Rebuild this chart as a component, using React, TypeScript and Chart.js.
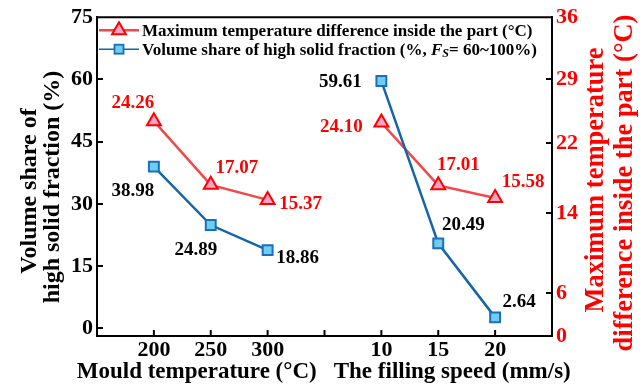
import React, { useEffect, useRef } from "react";
import { Chart, registerables } from "chart.js";

Chart.register(...registerables);

// ---------- data ----------
const categories = ["", "200", "250", "300", "", "10", "15", "20", ""];
const maxTempDiff = [null, 24.26, 17.07, 15.37, null, 24.1, 17.01, 15.58, null];
const volumeShare = [null, 38.98, 24.89, 18.86, null, 59.61, 20.49, 2.64, null];
const leftTickValues = [0, 15, 30, 45, 60, 75];
const rightTickValues = [0, 4.8, 13.9, 21.8, 29, 36];
const rightTickLabels = ["0", "6", "14", "22", "29", "36"];

const tempLegend = "Maximum temperature difference inside the part (\u00B0C)";
const volLegendParts = ["Volume share of high solid fraction (%, ", "F", "S", "= 60~100%)"];
const leftTitle = ["Volume share of", "high solid fraction (%)"];
const rightTitle = ["Maximum temperature", "difference inside the part (\u00B0C)"];
const bottomTitles = ["Mould temperature (\u00B0C)", "The filling speed (mm/s)"];

// ---------- styles ----------
const FONT = "'Liberation Serif', 'Times New Roman', serif";
const font = (size: number, style = "") => `${style} bold ${size}px ${FONT}`;
const RED = "#ff0000";
const RED_LINE = "#f24848";
const RED_FILL = "#f7a3c6";
const BLUE_LINE = "#1565a8";
const BLUE_BORDER = "#1a6fb8";
const BLUE_FILL = "#6fcdf4";
const TICK_LEN = 6;

// label offsets [dx, dy] from each point (style, not data)
const tempLabelOffsets = [[0, 0], [-21, -18], [26, -17], [33, 4], [0, 0], [-40, 5], [20, -20], [28, -16], [0, 0]];
const volLabelOffsets = [[0, 0], [-21, 24], [-15, 25], [30, 8], [0, 0], [-41, 1], [25, -18], [24, -15], [0, 0]];

const overlayPlugin = {
  id: "overlay",
  afterDraw(chart: any) {
    const { ctx, chartArea } = chart;
    ctx.save();
    // top border
    ctx.strokeStyle = "#000";
    ctx.lineWidth = 2;
    ctx.beginPath();
    ctx.moveTo(chartArea.left - 1, chartArea.top);
    ctx.lineTo(chartArea.right + 1, chartArea.top);
    ctx.stroke();

    // inward tick marks
    ctx.lineWidth = 2;
    ctx.strokeStyle = "#000";
    const xs = chart.scales.x;
    xs.ticks.forEach((_t: any, i: number) => {
      const p = xs.getPixelForValue(i);
      if (i === 0 || i === xs.ticks.length - 1) return;
      ctx.beginPath();
      ctx.moveTo(p, chartArea.bottom);
      ctx.lineTo(p, chartArea.bottom - TICK_LEN);
      ctx.stroke();
    });
    const yl = chart.scales.y;
    yl.ticks.forEach((t: any) => {
      const p = Math.round(yl.getPixelForValue(t.value));
      if (Math.abs(p - chartArea.top) < 2) return;
      ctx.beginPath();
      ctx.moveTo(chartArea.left, p);
      ctx.lineTo(chartArea.left + TICK_LEN, p);
      ctx.stroke();
    });
    const yr = chart.scales.y2;
    yr.ticks.forEach((t: any) => {
      const p = Math.round(yr.getPixelForValue(t.value));
      if (Math.abs(p - chartArea.top) < 2 || Math.abs(p - chartArea.bottom) < 2) return;
      ctx.beginPath();
      ctx.moveTo(chartArea.right, p);
      ctx.lineTo(chartArea.right - TICK_LEN, p);
      ctx.stroke();
    });

    // data labels
    ctx.textAlign = "center";
    ctx.textBaseline = "middle";
    ctx.font = font(19);
    const sets = [
      { idx: 0, color: RED, offs: tempLabelOffsets },
      { idx: 1, color: "#000", offs: volLabelOffsets },
    ];
    sets.forEach(({ idx, color, offs }) => {
      const ds = chart.data.datasets[idx];
      const meta = chart.getDatasetMeta(idx);
      ctx.fillStyle = color;
      meta.data.forEach((pt: any, i: number) => {
        const v = ds.data[i];
        if (v == null) return;
        ctx.fillText((v as number).toFixed(2), pt.x + offs[i][0], pt.y + offs[i][1]);
      });
    });

    // legend
    const lx0 = chartArea.left + 2;
    const lx1 = chartArea.left + 42;
    const mx = (lx0 + lx1) / 2;
    const r1 = chartArea.top + 13;
    const r2 = chartArea.top + 32;
    ctx.strokeStyle = RED_LINE;
    ctx.lineWidth = 2.5;
    ctx.beginPath();
    ctx.moveTo(lx0, r1);
    ctx.lineTo(lx1, r1);
    ctx.stroke();
    const tr = 8;
    ctx.beginPath();
    ctx.moveTo(mx, r1 - tr);
    ctx.lineTo(mx + tr * 0.866, r1 + tr * 0.5);
    ctx.lineTo(mx - tr * 0.866, r1 + tr * 0.5);
    ctx.closePath();
    ctx.fillStyle = RED_FILL;
    ctx.fill();
    ctx.strokeStyle = RED;
    ctx.lineWidth = 2;
    ctx.stroke();

    ctx.strokeStyle = BLUE_LINE;
    ctx.lineWidth = 1.5;
    ctx.beginPath();
    ctx.moveTo(lx0, r2);
    ctx.lineTo(lx1, r2);
    ctx.stroke();
    const sq = 4.5;
    ctx.fillStyle = BLUE_FILL;
    ctx.fillRect(mx - sq, r2 - sq, sq * 2, sq * 2);
    ctx.strokeStyle = BLUE_BORDER;
    ctx.lineWidth = 1.8;
    ctx.strokeRect(mx - sq, r2 - sq, sq * 2, sq * 2);

    ctx.textAlign = "left";
    ctx.fillStyle = "#000";
    const LF = 17;
    ctx.font = font(LF);
    const tx = lx1 + 3;
    ctx.fillText(tempLegend, tx, r1 + 1);
    let x = tx;
    ctx.font = font(LF);
    ctx.fillText(volLegendParts[0], x, r2 + 1);
    x += ctx.measureText(volLegendParts[0]).width;
    ctx.font = font(LF, "italic");
    ctx.fillText(volLegendParts[1], x, r2 + 1);
    x += ctx.measureText(volLegendParts[1]).width;
    ctx.font = font(12, "italic");
    ctx.fillText(volLegendParts[2], x, r2 + 5);
    x += ctx.measureText(volLegendParts[2]).width;
    ctx.font = font(LF);
    ctx.fillText(volLegendParts[3], x, r2 + 1);

    // axis titles (rotated, reading bottom-to-top)
    ctx.textAlign = "center";
    ctx.textBaseline = "alphabetic";
    const drawRot = (text: string, size: number, bx: number, cy: number) => {
      ctx.save();
      ctx.font = font(size);
      ctx.translate(bx, cy);
      ctx.rotate(-Math.PI / 2);
      ctx.fillText(text, 0, 0);
      ctx.restore();
    };
    ctx.fillStyle = "#000";
    drawRot(leftTitle[0], 24, 36, 191);
    drawRot(leftTitle[1], 24, 59, 187);
    ctx.fillStyle = RED;
    drawRot(rightTitle[0], 26.5, 603, 180);
    drawRot(rightTitle[1], 26.5, 632, 183);

    ctx.fillStyle = "#000";
    ctx.textBaseline = "middle";
    ctx.font = font(23);
    const c1 = (xs.getPixelForValue(1) + xs.getPixelForValue(3)) / 2;
    const c2 = (xs.getPixelForValue(5) + xs.getPixelForValue(7)) / 2;
    ctx.fillText(bottomTitles[0], c1 - 14, 372);
    ctx.fillText(bottomTitles[1], c2 + 14, 372);
    ctx.restore();
  },
};

export default function App() {
  const ref = useRef<HTMLCanvasElement | null>(null);
  useEffect(() => {
    if (!ref.current) return;
    const tickFont = { family: FONT, size: 22, weight: "bold" as const };
    const gridOpts = { drawOnChartArea: false, drawTicks: false };
    const borderOpts = { display: true, color: "#000", width: 2 };
    const chart = new Chart(ref.current, {
      type: "line",
      data: {
        labels: categories,
        datasets: [
          {
            label: tempLegend,
            data: maxTempDiff,
            yAxisID: "y2",
            borderColor: RED_LINE,
            borderWidth: 2.5,
            pointStyle: "triangle",
            pointRadius: 8,
            pointBackgroundColor: RED_FILL,
            pointBorderColor: RED,
            pointBorderWidth: 2,
            spanGaps: false,
            order: 1,
          },
          {
            label: "Volume share",
            data: volumeShare,
            yAxisID: "y",
            borderColor: BLUE_LINE,
            borderWidth: 2.5,
            pointStyle: "rect",
            pointRadius: 7,
            pointBackgroundColor: BLUE_FILL,
            pointBorderColor: BLUE_BORDER,
            pointBorderWidth: 2,
            spanGaps: false,
            order: 0,
          },
        ],
      },
      options: {
        animation: false,
        responsive: false,
        layout: { padding: { top: 17, left: 0, right: 0, bottom: 0 } },
        plugins: { legend: { display: false }, tooltip: { enabled: false } },
        scales: {
          x: {
            type: "category",
            offset: false,
            grid: gridOpts,
            border: borderOpts,
            ticks: { font: tickFont, color: "#000", padding: 1, autoSkip: false, maxRotation: 0 },
            afterFit: (s: any) => {
              s.height = 54;
            },
          },
          y: {
            type: "linear",
            position: "left",
            min: -1.85,
            max: 75,
            afterBuildTicks: (s: any) => {
              s.ticks = leftTickValues.map((v) => ({ value: v }));
            },
            grid: gridOpts,
            border: borderOpts,
            ticks: { font: tickFont, color: "#000", padding: 4 },
            afterFit: (s: any) => {
              s.width = 97;
            },
          },
          y2: {
            type: "linear",
            position: "right",
            min: 0,
            max: 36,
            afterBuildTicks: (s: any) => {
              s.ticks = rightTickValues.map((v) => ({ value: v }));
            },
            grid: gridOpts,
            border: borderOpts,
            ticks: {
              font: tickFont,
              color: RED,
              padding: 4,
              callback: (_v: any, i: number) => rightTickLabels[i],
            },
            afterFit: (s: any) => {
              s.width = 92;
            },
          },
        },
      },
      plugins: [overlayPlugin],
    });
    return () => chart.destroy();
  }, []);
  return (
    <div style={{ position: "absolute", left: 0, top: 0, width: 644, height: 390, background: "#fff" }}>
      <canvas ref={ref} width={644} height={390} />
    </div>
  );
}
